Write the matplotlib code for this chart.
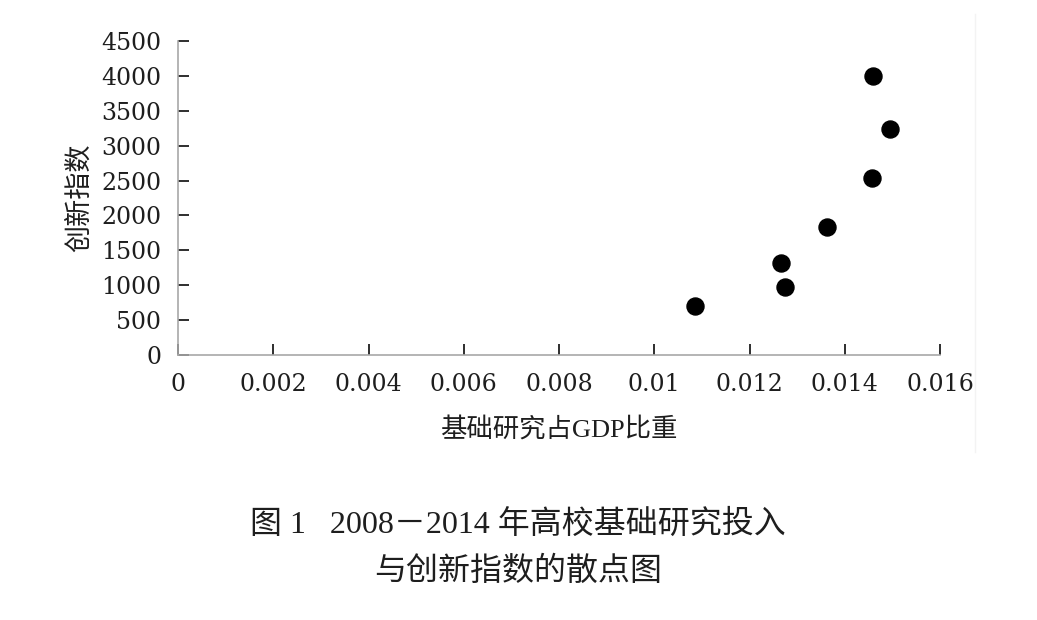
import matplotlib
matplotlib.use("Agg")
import matplotlib.pyplot as plt
from matplotlib.lines import Line2D

# Data
x_share = [0.01086, 0.01266, 0.01275, 0.01363, 0.01457, 0.01459, 0.01495]
y_index = [700, 1315, 975, 1830, 2535, 3995, 3235]
x_ticks = [0, 0.002, 0.004, 0.006, 0.008, 0.01, 0.012, 0.014, 0.016]
x_tick_labels = ["0", "0.002", "0.004", "0.006", "0.008", "0.01", "0.012", "0.014", "0.016"]
y_ticks = [0, 500, 1000, 1500, 2000, 2500, 3000, 3500, 4000, 4500]
x_label = "基础研究占GDP比重"
y_label = "创新指数"
caption1 = "图 1   2008－2014 年高校基础研究投入"
caption2 = "与创新指数的散点图"

serif = ["DejaVu Serif"]
cjk = ["Liberation Serif", "Noto Sans CJK SC", "DejaVu Sans"]
ink = "#1e1e1e"

fig = plt.figure(figsize=(10.37, 6.2), dpi=100)
ax = fig.add_axes([178 / 1037, 265 / 620, 762 / 1037, 314 / 620])

ax.scatter(x_share, y_index, s=150, color="black", zorder=3, clip_on=False)

ax.set_xlim(0, 0.016)
ax.set_ylim(0, 4500)
ax.set_xticks(x_ticks)
ax.set_xticklabels(x_tick_labels)
ax.set_yticks(y_ticks)

for s in ["top", "right"]:
    ax.spines[s].set_visible(False)
for s in ["left", "bottom"]:
    ax.spines[s].set_color("#a8a8a8")
    ax.spines[s].set_linewidth(1.2)

ax.tick_params(axis="both", direction="in", length=8, width=1.3, color=ink,
               labelsize=17, labelcolor=ink)
ax.tick_params(axis="y", pad=12)
ax.tick_params(axis="x", pad=13)
for lab in ax.get_xticklabels() + ax.get_yticklabels():
    lab.set_family(serif)

ax.set_xlabel(x_label, family=cjk, fontsize=19, color=ink, labelpad=15)
ax.set_ylabel(y_label, family=cjk, fontsize=19.5, color=ink, labelpad=5)

# faint frame edge on the right of the chart area
fig.add_artist(Line2D([975 / 1037, 975 / 1037], [1 - 452 / 620, 1 - 14 / 620],
                      color="#f3f3f3", lw=1, transform=fig.transFigure))

fig.text(518 / 1037, 1 - 525 / 620, caption1, family=cjk, fontsize=23,
         ha="center", va="center", color=ink)
fig.text(518 / 1037, 1 - 572 / 620, caption2, family=cjk, fontsize=23,
         ha="center", va="center", color=ink)

fig.savefig("out.png", dpi=100)
